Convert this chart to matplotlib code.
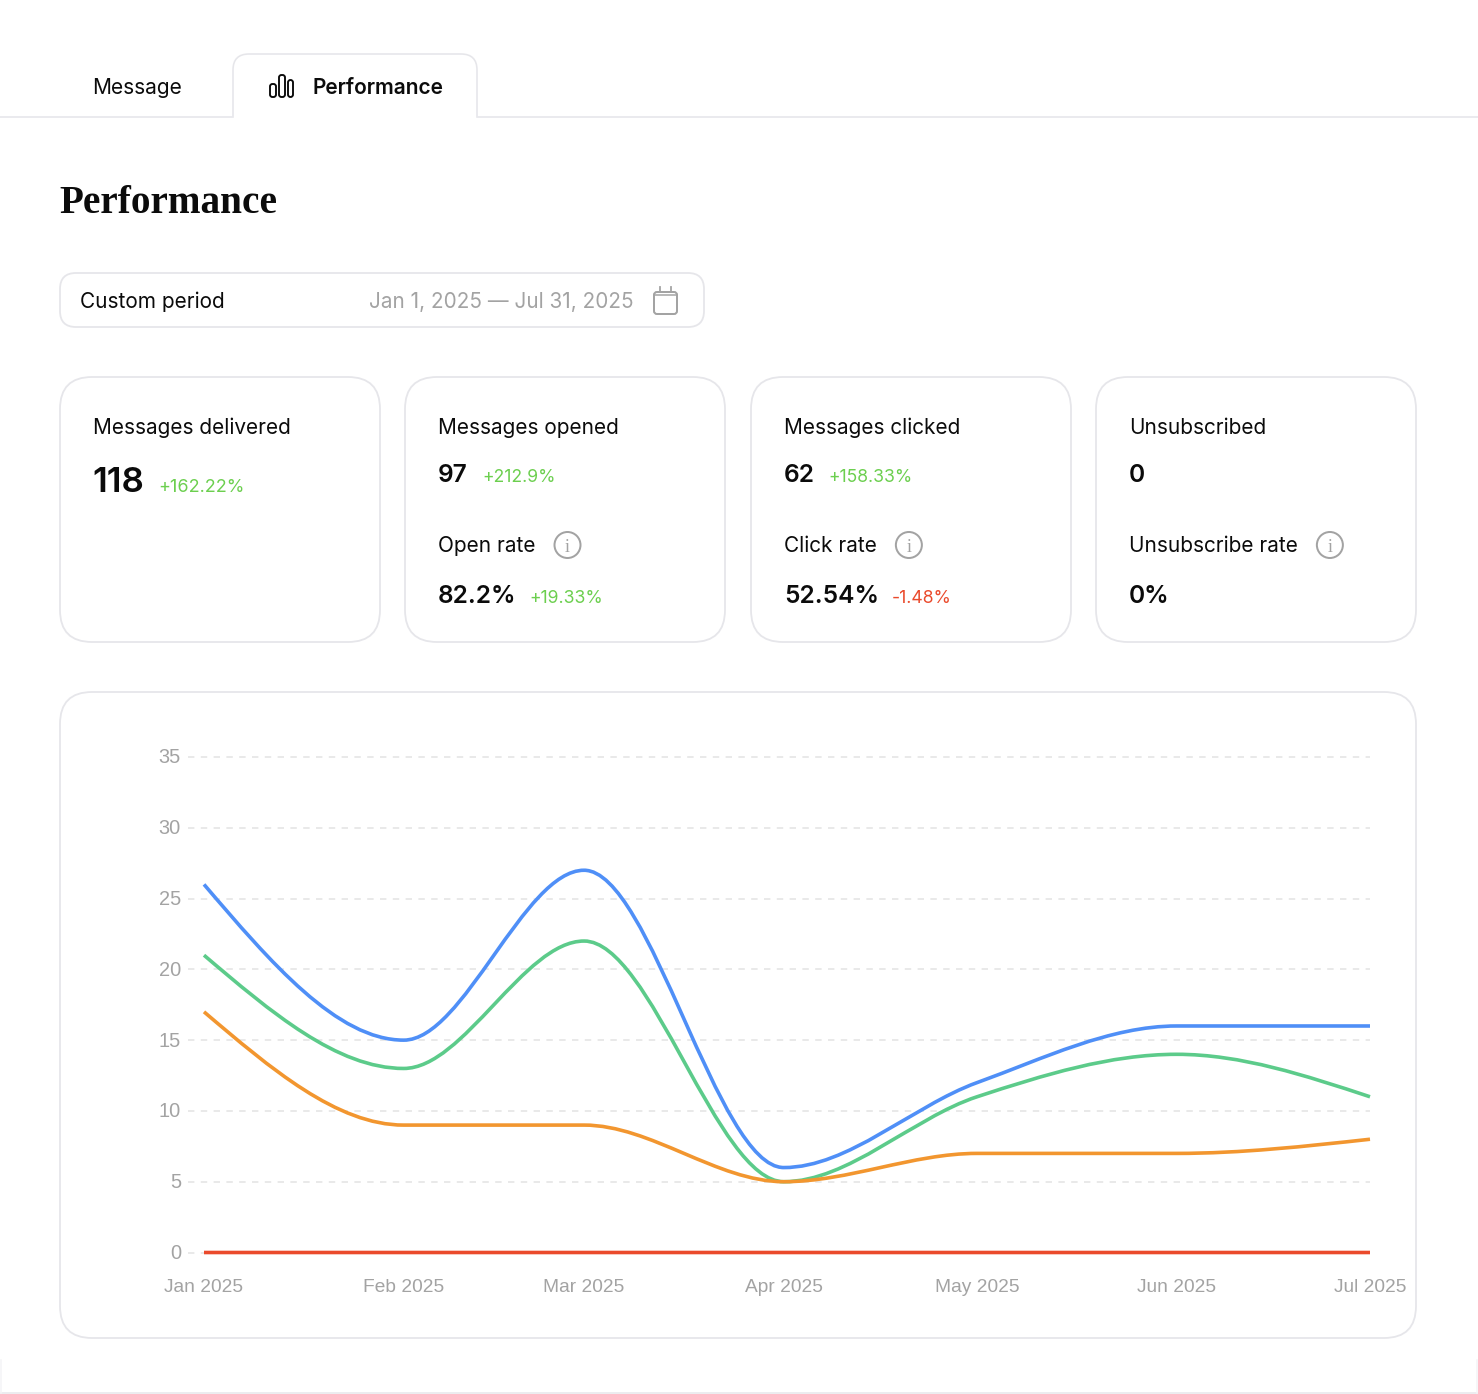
import numpy as np
import matplotlib
matplotlib.use("Agg")
import matplotlib.pyplot as plt
from matplotlib.patches import FancyBboxPatch, Circle, PathPatch
from matplotlib.path import Path
from matplotlib.transforms import ScaledTranslation

W, H = 1478, 1394

# chart data
month_labels = ["Jan 2025", "Feb 2025", "Mar 2025", "Apr 2025", "May 2025", "Jun 2025", "Jul 2025"]
month_days = [0, 31, 59, 90, 120, 151, 181]
delivered = [26, 15, 27, 6, 12, 16, 16]
opened = [21, 13, 22, 5, 11, 14, 11]
clicked = [17, 9, 9, 5, 7, 7, 8]
unsubscribed = [0, 0, 0, 0, 0, 0, 0]
y_ticks = [0, 5, 10, 15, 20, 25, 30, 35]

# text of the cards
card_titles = ["Messages delivered", "Messages opened", "Messages clicked", "Unsubscribed"]
card_values = ["118", "97", "62", "0"]
card_deltas = ["+162.22%", "+212.9%", "+158.33%", ""]
rate_titles = ["", "Open rate", "Click rate", "Unsubscribe rate"]
rate_values = ["", "82.2%", "52.54%", "0%"]
rate_deltas = ["", "+19.33%", "-1.48%", ""]

BLACK = "#0b0b0b"
GREY = "#a3a3a3"
BORDER = "#e6e6ea"
GREEN = "#6ccf4f"
RED = "#ea4a2c"
UI = "Inter"

fig = plt.figure(figsize=(W / 100, H / 100), dpi=100)
bg = fig.add_axes([0, 0, 1, 1])
bg.set_xlim(0, W)
bg.set_ylim(H, 0)
bg.axis("off")


def px(v):
    return v * 0.72


def label(x, y, s, size, color=BLACK, weight="normal", family=UI, ha="left"):
    return bg.text(x, y, s, fontsize=px(size), color=color, fontweight=weight, family=family, ha=ha, va="baseline")


def box(x0, y0, x1, y1, r, ec=BORDER, lw=2, fc="white"):
    bg.add_patch(FancyBboxPatch((x0, y0), x1 - x0, y1 - y0, boxstyle=f"round,pad=0,rounding_size={r}",
                                fc=fc, ec=ec, lw=px(lw)))


def right_edge(t):
    fig.canvas.draw()
    return t.get_window_extent().x1


# tabs
bg.plot([0, 233], [116.5, 116.5], color=BORDER, lw=px(1.6))
bg.plot([477, W], [116.5, 116.5], color=BORDER, lw=px(1.6))
r = 16
tab = Path([(233, 116.5), (233, 54 + r), (233, 54), (233 + r, 54), (477 - r, 54), (477, 54), (477, 54 + r), (477, 116.5)],
           [Path.MOVETO, Path.LINETO, Path.CURVE3, Path.CURVE3, Path.LINETO, Path.CURVE3, Path.CURVE3, Path.LINETO])
bg.add_patch(PathPatch(tab, fc="white", ec=BORDER, lw=px(1.6)))
label(92, 94, "Message", 20.9)
label(313, 94, "Performance", 20.9, weight="semibold")
for x0, y0, x1 in [(270, 84, 276), (279, 75, 285), (288, 80, 293)]:
    box(x0, y0, x1, 97, 2.5, ec=BLACK, lw=1.9, fc="none")

label(59, 213, "Performance", 39.3, weight="bold", family="Liberation Serif")

# period selector
box(60, 273, 704, 327, 16, lw=1.8)
label(80, 308, "Custom period", 20.8)
label(369, 308, "Jan 1, 2025 — Jul 31, 2025", 20.7, color=GREY)
box(654, 292, 677, 314, 3, ec=GREY, lw=2, fc="none")
bg.plot([654, 677], [295, 295], color=GREY, lw=px(1.5))
bg.plot([660, 660], [287, 292], color=GREY, lw=px(1.8))
bg.plot([671, 671], [287, 292], color=GREY, lw=px(1.8))

# cards
card_left = [60, 405, 751, 1096]
for i, x0 in enumerate(card_left):
    box(x0, 377, x0 + 320, 642, 32, lw=1.8)
    tx = x0 + 33
    label(tx, 434, card_titles[i], 20.8)
    if i == 0:
        label(tx - 1, 492, card_values[i], 35, weight="semibold")
        label(tx + 65, 492, card_deltas[i], 18, color=GREEN)
        continue
    label(tx, 482, card_values[i], 24.5, weight="semibold")
    if card_deltas[i]:
        label(tx + 44, 482, card_deltas[i], 17.6, color=GREEN)
    t = label(tx, 552, rate_titles[i], 20.8)
    cx = right_edge(t) + 32
    bg.add_patch(Circle((cx, 545), 13, fc="none", ec=GREY, lw=px(2)))
    label(cx, 552, "i", 18, color=GREY, family="Liberation Serif", ha="center")
    t = label(tx, 603, rate_values[i], 24.5, weight="semibold")
    if rate_deltas[i]:
        col = RED if rate_deltas[i].startswith("-") else GREEN
        label(right_edge(t) + 13, 603, rate_deltas[i], 17.6, color=col)

# chart card
box(60, 692, 1416, 1338, 32, lw=1.8)

# page bottom edge
bg.plot([0, W], [1393, 1393], color="#ececef", lw=px(2))
bg.plot([1, 1], [1360, 1393], color="#f4f4f6", lw=px(1.5))
bg.plot([W - 1, W - 1], [1360, 1393], color="#f4f4f6", lw=px(1.5))

# chart axes, x 188..1370 and y 757..1252 in pixels
x_scale = (1370 - 204) / 181
ax = fig.add_axes([188 / W, 1 - 1252.5 / H, (1370 - 188) / W, (1252.5 - 757) / H])
ax.patch.set_alpha(0)
ax.set_xlim(-16 / x_scale, 181)
ax.set_ylim(0, 35)
for s in ax.spines.values():
    s.set_visible(False)
ax.set_yticks(y_ticks)
ax.set_xticks(month_days)
ax.set_xticklabels(month_labels)
ax.tick_params(length=0, labelcolor=GREY)
ax.tick_params(axis="x", pad=px(27), labelsize=px(19.1))
ax.tick_params(axis="y", pad=px(7), labelsize=px(20))
for lab in ax.get_xticklabels() + ax.get_yticklabels():
    lab.set_family("Liberation Sans")
up = ScaledTranslation(0, 1 / 100, fig.dpi_scale_trans)
for lab in ax.get_yticklabels():
    lab.set_transform(lab.get_transform() + up)
for v in y_ticks:
    ax.axhline(v, color="#e9e9e9", lw=px(2), dashes=(3.2, 3.2), zorder=1, clip_on=False)


def monotone_path(xs, ys):
    # same curve as a monotone cubic line in d3: flat tangents at the turns
    xs = np.asarray(xs, float)
    ys = np.asarray(ys, float)
    h = np.diff(xs)
    s = np.diff(ys) / h
    m = np.zeros(len(xs))
    for i in range(1, len(xs) - 1):
        p = (s[i - 1] * h[i] + s[i] * h[i - 1]) / (h[i - 1] + h[i])
        m[i] = (np.sign(s[i - 1]) + np.sign(s[i])) * min(abs(s[i - 1]), abs(s[i]), 0.5 * abs(p))
    m[0] = (3 * s[0] - m[1]) / 2
    m[-1] = (3 * s[-1] - m[-2]) / 2
    verts = [(xs[0], ys[0])]
    codes = [Path.MOVETO]
    for i in range(len(h)):
        d = h[i] / 3
        verts += [(xs[i] + d, ys[i] + m[i] * d), (xs[i + 1] - d, ys[i + 1] - m[i + 1] * d), (xs[i + 1], ys[i + 1])]
        codes += [Path.CURVE4] * 3
    return Path(verts, codes)


series = [(delivered, "#4f8ff7"), (opened, "#5ccb8a"), (clicked, "#f2962f"), (unsubscribed, "#ea4a2c")]
for vals, col in series:
    ax.add_patch(PathPatch(monotone_path(month_days, vals), fc="none", ec=col, lw=px(3.6), zorder=3,
                           clip_on=False, capstyle="butt"))

plt.savefig("out.png", dpi=100)
